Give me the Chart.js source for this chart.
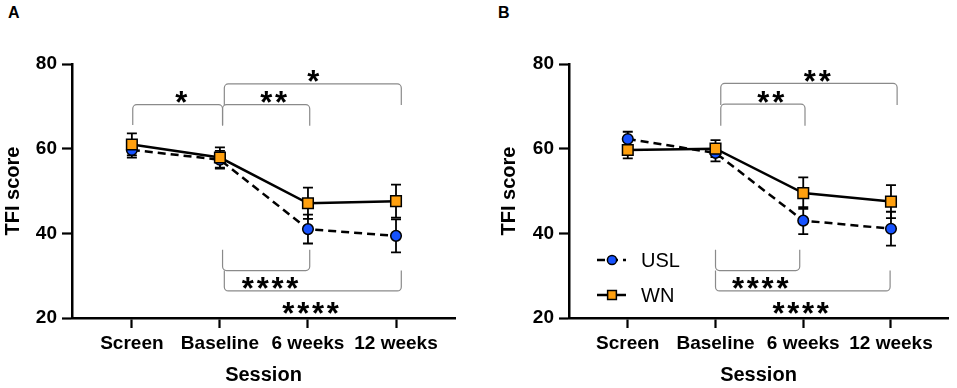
<!DOCTYPE html>
<html><head><meta charset="utf-8">
<script src="https://cdn.jsdelivr.net/npm/chart.js@4.4.0/dist/chart.umd.min.js"></script>
<style>
html,body{margin:0;padding:0;background:#fff;width:957px;height:388px;overflow:hidden;}
canvas{position:absolute;top:0;}
#ca{left:0;} #cb{left:478px;}
.panel{position:absolute;top:4px;font:bold 16px "Liberation Sans",Arial,sans-serif;color:#000;}
</style></head><body>
<div class="panel" style="left:8px">A</div>
<div class="panel" style="left:498px">B</div>
<canvas id="ca" width="478" height="388"></canvas>
<canvas id="cb" width="479" height="388"></canvas>
<script>
const sessions = ['Screen', 'Baseline', '6 weeks', '12 weeks'];
const yTicks = [20, 40, 60, 80];
const seriesNames = ['USL', 'WN'];

const uslA    = [59.7, 57.4, 41.0, 39.4];
const uslAErr = [1.8, 2.1, 3.4, 3.9];
const wnA     = [61.0, 57.9, 47.1, 47.6];
const wnAErr  = [2.6, 2.4, 3.7, 3.9];

const uslB    = [62.3, 59.0, 43.0, 41.1];
const uslBErr = [1.7, 2.0, 3.2, 4.0];
const wnB     = [59.7, 60.0, 49.5, 47.5];
const wnBErr  = [2.0, 2.0, 3.7, 3.9];

// significance brackets: x from/to (session index), bar level, leg end, label, label position
const bracketsA = [
  {x1: 0.01, x2: 1.03, bar: 70.4, leg: 65.6, label: '*',    lx: 0.56, ly: 72.7},
  {x1: 1.03, x2: 2.02, bar: 70.4, leg: 65.4, label: '**',   lx: 1.61, ly: 72.7},
  {x1: 1.05, x2: 3.06, bar: 75.3, leg: 70.3, label: '*',    lx: 2.06, ly: 77.6},
  {x1: 1.03, x2: 2.02, bar: 31.2, leg: 36.1, label: '****', lx: 1.57, ly: 28.7},
  {x1: 1.05, x2: 3.06, bar: 26.4, leg: 31.2, label: '****', lx: 2.03, ly: 22.9}
];
const bracketsB = [
  {x1: 1.06, x2: 2.02, bar: 70.5, leg: 65.4, label: '**',   lx: 1.63, ly: 72.7},
  {x1: 1.06, x2: 3.07, bar: 75.4, leg: 70.3, label: '**',   lx: 2.16, ly: 77.6},
  {x1: 1.00, x2: 1.96, bar: 31.2, leg: 36.1, label: '****', lx: 1.51, ly: 28.7},
  {x1: 1.00, x2: 2.99, bar: 26.4, leg: 31.2, label: '****', lx: 1.97, ly: 22.9}
];

const FONT = '"Liberation Sans", Arial, Helvetica, sans-serif';
const BLUE = '#1652ff', ORANGE = '#ffa00f';
const STAR_SIZE = 31;

const overlay = {
  id: 'overlay',
  beforeDatasetsDraw(chart) {
    const ctx = chart.ctx, xs = chart.scales.x, ys = chart.scales.y;
    ctx.save();
    ctx.strokeStyle = '#000'; ctx.lineWidth = 1.8; ctx.setLineDash([]);
    chart.data.datasets.forEach(ds => {
      ds.data.forEach((p, i) => {
        const e = ds.errors[i];
        const x = xs.getPixelForValue(p.x);
        const y1 = ys.getPixelForValue(p.y + e), y2 = ys.getPixelForValue(p.y - e);
        ctx.beginPath();
        ctx.moveTo(x, y1); ctx.lineTo(x, y2);
        ctx.moveTo(x - 5, y1); ctx.lineTo(x + 5, y1);
        ctx.moveTo(x - 5, y2); ctx.lineTo(x + 5, y2);
        ctx.stroke();
      });
    });
    ctx.restore();
  },
  afterDraw(chart, args, opts) {
    const ctx = chart.ctx, xs = chart.scales.x, ys = chart.scales.y;
    ctx.save();
    (opts.brackets || []).forEach(b => {
      ctx.strokeStyle = '#8a8a8a'; ctx.lineWidth = 1.2;
      const x1 = xs.getPixelForValue(b.x1), x2 = xs.getPixelForValue(b.x2);
      const yb = ys.getPixelForValue(b.bar), yl = ys.getPixelForValue(b.leg);
      const r = 4;
      ctx.beginPath();
      ctx.moveTo(x1, yl);
      ctx.arcTo(x1, yb, x2, yb, r);
      ctx.arcTo(x2, yb, x2, yl, r);
      ctx.lineTo(x2, yl);
      ctx.stroke();
      ctx.fillStyle = '#000';
      ctx.font = 'bold ' + STAR_SIZE + 'px ' + FONT;
      ctx.textAlign = 'center'; ctx.textBaseline = 'alphabetic';
      const n = b.label.length, pitch = 14.8;
      const cx = xs.getPixelForValue(b.lx), cy = ys.getPixelForValue(b.ly);
      for (let k = 0; k < n; k++) {
        const sx = cx + (k - (n - 1) / 2) * pitch;
        ctx.fillText(b.label[k], sx, cy + 0.58 * STAR_SIZE);
      }
    });
    if (opts.legend) {
      const a = chart.chartArea;
      chart.data.datasets.forEach(ds => {
        const y = a.top + 196 + ds.legendRow * 35;
        const lx = a.left + 28, rx = a.left + 57, mx = a.left + 43;
        ctx.strokeStyle = '#000'; ctx.lineWidth = 2.5;
        ctx.setLineDash(ds.borderDash || []);
        ctx.beginPath(); ctx.moveTo(lx, y); ctx.lineTo(rx, y); ctx.stroke();
        ctx.setLineDash([]);
        ctx.fillStyle = ds.pointBackgroundColor; ctx.strokeStyle = '#000'; ctx.lineWidth = 1.5;
        Chart.helpers.drawPoint(ctx, {pointStyle: ds.pointStyle, radius: ds.pointStyle === 'rect' ? 6.2 : 4.6, borderWidth: 1.5, rotation: 0}, mx, y);
        ctx.fillStyle = '#000';
        ctx.font = '20px ' + FONT;
        ctx.textAlign = 'left'; ctx.textBaseline = 'middle';
        ctx.fillText(ds.label, a.left + 72, y + 1);
      });
    }
    ctx.restore();
  }
};

function makeChart(id, usl, uslErr, wn, wnErr, brackets, cfg) {
  const pts = arr => arr.map((v, i) => ({x: i, y: v}));
  return new Chart(document.getElementById(id), {
    type: 'line',
    data: {
      datasets: [
        {label: seriesNames[0], data: pts(usl), errors: uslErr, legendRow: 0, order: 1,
         borderColor: '#000', borderWidth: 2.5, borderDash: [8, 5],
         pointStyle: 'circle', pointRadius: 5.3, pointBackgroundColor: BLUE,
         pointBorderColor: '#000', pointBorderWidth: 1.5, tension: 0},
        {label: seriesNames[1], data: pts(wn), errors: wnErr, legendRow: 1, order: 0,
         borderColor: '#000', borderWidth: 2.5,
         pointStyle: 'rect', pointRadius: 7.5, pointBackgroundColor: ORANGE,
         pointBorderColor: '#000', pointBorderWidth: 1.5, tension: 0}
      ]
    },
    options: {
      responsive: false, animation: false, devicePixelRatio: 1,
      layout: {padding: cfg.padding},
      plugins: {legend: {display: false}, tooltip: {enabled: false},
                overlay: {brackets: brackets, legend: cfg.legend}},
      scales: {
        x: {
          type: 'linear', min: cfg.xmin, max: cfg.xmax,
          afterBuildTicks: s => { s.ticks = sessions.map((_, i) => ({value: i})); },
          afterFit: s => { s.height = 70; },
          grid: {display: true, drawOnChartArea: false, drawTicks: true, tickLength: 10, tickWidth: 2.2, tickColor: '#000'},
          border: {display: true, color: '#000', width: 2.5},
          ticks: {color: '#000', padding: 4, maxRotation: 0, autoSkip: false,
                  font: {family: FONT, size: 19, weight: 'bold'},
                  callback: v => sessions[v]},
          title: {display: true, text: 'Session', color: '#000',
                  font: {family: FONT, size: 20, weight: 'bold'}, padding: {top: 0, bottom: 1}}
        },
        y: {
          type: 'linear', min: yTicks[0], max: yTicks[yTicks.length - 1],
          afterBuildTicks: s => { s.ticks = yTicks.map(v => ({value: v})); },
          afterFit: s => { s.width = cfg.yWidth; },
          grid: {display: true, drawOnChartArea: false, drawTicks: true, tickLength: 10, tickWidth: 2.2, tickColor: '#000'},
          border: {display: true, color: '#000', width: 2.5},
          ticks: {color: '#000', padding: 5, font: {family: FONT, size: 19, weight: 'bold'}},
          title: {display: true, text: 'TFI score', color: '#000',
                  font: {family: FONT, size: 20, weight: 'bold'}, padding: {top: 1, bottom: 0}}
        }
      }
    },
    plugins: [overlay]
  });
}

makeChart('ca', uslA, uslAErr, wnA, wnAErr, bracketsA,
  {padding: {left: 0, right: 23, top: 64, bottom: 0}, yWidth: 72, xmin: -0.68, xmax: 3.67, legend: false});
makeChart('cb', uslB, uslBErr, wnB, wnBErr, bracketsB,
  {padding: {left: 18, right: 7, top: 64, bottom: 0}, yWidth: 73, xmin: -0.67, xmax: 3.65, legend: true});
</script>
</body></html>
